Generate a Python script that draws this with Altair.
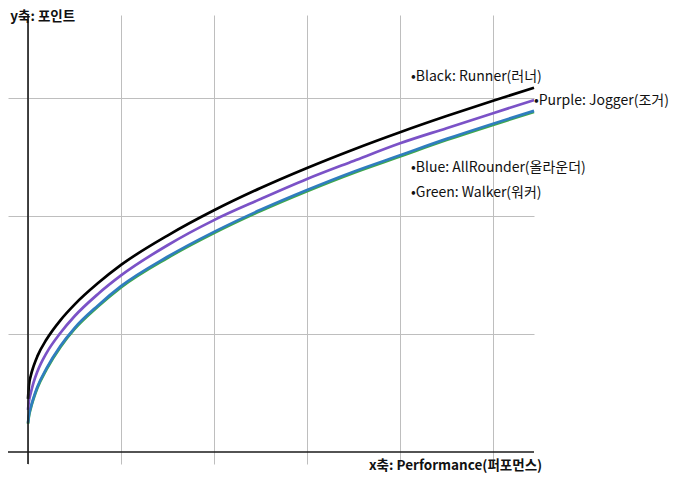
import altair as alt
import pandas as pd

# ---- data ----
x_pts = [0.0, 0.01, 0.03, 0.06, 0.1, 0.2, 0.35, 0.5, 0.75, 1.0, 1.5, 2.0, 2.5, 3.0, 3.5, 4.0, 4.5, 5.0, 5.44]

black_y = [0.45, 0.563, 0.646, 0.727, 0.81, 0.955, 1.118, 1.249, 1.429, 1.585, 1.834, 2.048,
           2.237, 2.407, 2.564, 2.71, 2.847, 2.977, 3.086]
purple_y = [0.356, 0.43, 0.50, 0.59, 0.68, 0.84, 1.01, 1.15, 1.337, 1.496, 1.752, 1.965,
            2.143, 2.313, 2.466, 2.616, 2.744, 2.871, 2.982]
blue_y = [0.246, 0.31, 0.38, 0.46, 0.55, 0.71, 0.90, 1.05, 1.24, 1.405, 1.654, 1.865,
          2.052, 2.22, 2.375, 2.514, 2.653, 2.782, 2.891]
green_y = [0.238, 0.30, 0.37, 0.45, 0.54, 0.70, 0.89, 1.04, 1.23, 1.395, 1.644, 1.855,
           2.042, 2.21, 2.365, 2.504, 2.643, 2.772, 2.881]

series_names = ["Green", "Blue", "Purple", "Black"]
series_colors = ["#3FA94B", "#2F7DBF", "#7B52C7", "#000000"]

label_texts = ["•Black: Runner(러너)", "•Purple: Jogger(조거)",
               "•Blue: AllRounder(올라운더)", "•Green: Walker(워커)"]
label_x = [4.118, 5.44, 4.118, 4.118]
label_y = [3.178, 2.975, 2.407, 2.195]

x_ticks = [0, 1, 2, 3, 4, 5]
y_ticks = [1, 2, 3]
x_domain = [-0.215, 5.44]
y_domain = [-0.102, 3.703]

x_title = "x축: Performance(퍼포먼스)"
y_title = "y축: 포인트"

# ---- build tables ----
rows = []
for name, ys_ in [("Green", green_y), ("Blue", blue_y), ("Purple", purple_y), ("Black", black_y)]:
    for i, (a, b) in enumerate(zip(x_pts, ys_)):
        rows.append({"series": name, "x": a, "y": b, "i": i})
lines_df = pd.DataFrame(rows)
labels_df = pd.DataFrame({"text": label_texts, "x": label_x, "y": label_y})

W, H = 526, 449
FONT = "Noto Sans CJK KR"

xs = alt.Scale(domain=x_domain, nice=False, zero=False)
ys = alt.Scale(domain=y_domain, nice=False, zero=False)

base_x = alt.X("x:Q", scale=xs,
               axis=alt.Axis(values=x_ticks, grid=True, gridColor="#BEBEBE", gridWidth=1,
                             domain=False, ticks=False, labels=False, title=None))
base_y = alt.Y("y:Q", scale=ys,
               axis=alt.Axis(values=y_ticks, grid=True, gridColor="#BEBEBE", gridWidth=1,
                             domain=False, ticks=False, labels=False, title=None))

lines = alt.Chart(lines_df).mark_line(strokeWidth=2.7, interpolate="monotone", clip=False).encode(
    x=base_x,
    y=base_y,
    color=alt.Color("series:N", scale=alt.Scale(domain=series_names, range=series_colors), legend=None),
    order=alt.Order("i:Q"),
    detail="series:N",
)

# axis lines crossing at the origin
yaxis_df = pd.DataFrame({"x": [0], "y": [y_domain[0]], "y2": [y_domain[1]]})
xaxis_df = pd.DataFrame({"x": [x_domain[0]], "x2": [x_domain[1]], "y": [0]})
yaxis = alt.Chart(yaxis_df).mark_rule(color="#1a1a1a", strokeWidth=1.6).encode(
    x=alt.X("x:Q", scale=xs), y=alt.Y("y:Q", scale=ys), y2="y2:Q")
xaxis = alt.Chart(xaxis_df).mark_rule(color="#1a1a1a", strokeWidth=1.6).encode(
    x=alt.X("x:Q", scale=xs), x2="x2:Q", y=alt.Y("y:Q", scale=ys))

labels = alt.Chart(labels_df).mark_text(align="left", baseline="middle", font=FONT,
                                         fontSize=14, color="#111111").encode(
    x=alt.X("x:Q", scale=xs), y=alt.Y("y:Q", scale=ys), text="text:N")

xt_df = pd.DataFrame({"text": [x_title], "x": [4.597], "y": [-0.121]})
yt_df = pd.DataFrame({"text": [y_title], "x": [-0.19], "y": [3.745]})
xt = alt.Chart(xt_df).mark_text(align="center", baseline="middle", font=FONT, fontSize=13.5,
                                fontWeight="bold", color="#111111").encode(
    x=alt.X("x:Q", scale=xs), y=alt.Y("y:Q", scale=ys), text="text:N")
yt = alt.Chart(yt_df).mark_text(align="left", baseline="top", font=FONT, fontSize=13.5,
                                fontWeight="bold", color="#111111").encode(
    x=alt.X("x:Q", scale=xs), y=alt.Y("y:Q", scale=ys), text="text:N")

chart = alt.layer(lines, yaxis, xaxis, labels, xt, yt).properties(
    width=W, height=H,
    autosize=alt.AutoSizeParams(type="none"),
    padding={"left": 0, "top": 7, "right": 138, "bottom": 12},
    background="white",
).configure_view(stroke=None)

chart.save("out.html", embed_options={"renderer": "svg", "actions": False})
